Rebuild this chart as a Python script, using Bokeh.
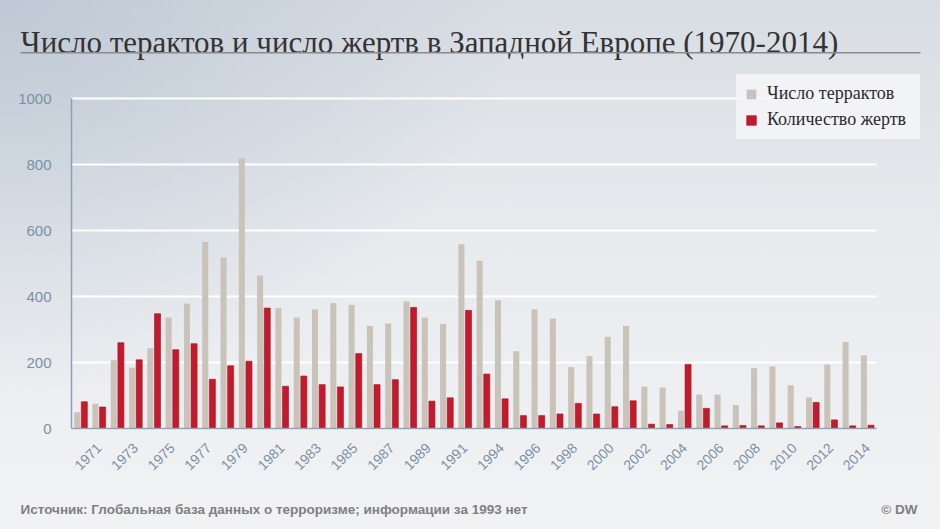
from bokeh.plotting import figure
from bokeh.models import (ColumnDataSource, Label, FixedTicker, Range1d, Legend, LegendItem,
                          BoxAnnotation, LinearAxis)
from bokeh.embed import file_html
from bokeh.resources import INLINE

years = [y for y in range(1970, 2015) if y != 1993]
attacks = [49, 75, 207, 184, 243, 336, 379, 565, 518, 819,
           464, 365, 336, 361, 380, 375, 311, 318, 385, 336,
           317, 558, 508,
           389, 234, 361, 333, 186, 219, 278,
           311, 127, 124, 54, 103, 103, 71, 183, 188, 131,
           94, 194, 262, 222]
victims = [81, 65, 260, 208, 348, 239, 257, 149, 190, 204,
           365, 128, 159, 133, 126, 227, 133, 148, 367, 83,
           93, 358, 165,
           90, 39, 39, 44, 76, 44, 66,
           84, 13, 12, 194, 61, 8, 9, 8, 17, 6,
           79, 26, 8, 10]
y_ticks = [0, 200, 400, 600, 800, 1000]
title_text = "Число терактов и число жертв в Западной Европе (1970-2014)"
source_text = "Источник: Глобальная база данных о терроризме; информации за 1993 нет"
credit_text = "© DW"
series_names = ["Число террактов", "Количество жертв"]

W, H = 940, 529
# plot-area geometry in canvas pixels
AX_X0, AX_X1 = 71, 876      # left / right of the category band
AX_Y0, AX_Y1 = 428, 98      # pixel of value 0 / value 1000

n = len(years)
px_x = (AX_X1 - AX_X0) / n
px_y = (AX_Y0 - AX_Y1) / 1000.0
x_range = Range1d(-AX_X0 / px_x, n + (W - AX_X1) / px_x)
y_range = Range1d(-(H - AX_Y0) / px_y, 1000 + AX_Y1 / px_y)

xpos = [i + 0.5 for i in range(n)]
src = ColumnDataSource(dict(x_att=[x - 0.19 for x in xpos], x_vic=[x + 0.2 for x in xpos],
                            attacks=attacks, victims=victims))

p = figure(width=W, height=H, x_range=x_range, y_range=y_range, min_border=0,
           x_axis_location=None, y_axis_location=None,
           output_backend="svg", toolbar_location=None, border_fill_color=None,
           background_fill_color=None, outline_line_color=None,
           styles={"background": "radial-gradient(ellipse 55% 75% at 0% 0%, rgba(186,198,211,0.85) 0%, rgba(186,198,211,0) 100%), linear-gradient(180deg, #d8dde3 0%, #e8ebee 45%, #f1f2f4 100%)"})
p.grid.visible = False

# grid lines (white), limited to the category band
p.segment(x0=[0] * len(y_ticks), x1=[n] * len(y_ticks), y0=y_ticks, y1=y_ticks,
          line_color="white", line_width=2)

gray_r = p.vbar(x="x_att", top="attacks", width=0.33, source=src,
                fill_color="#c9c3b9", line_color=None)
red_r = p.vbar(x="x_vic", top="victims", width=0.33, source=src,
               fill_color="#c21b2d", line_color="#a8111f", line_width=0.6)

axis_col = "#8ea1b4"
label_col = "#7b90a5"
yaxis = LinearAxis(fixed_location=0, ticker=FixedTicker(ticks=y_ticks), bounds=(0, 1000))
x_ticks = [xpos[i] for i in range(n) if i % 2 == 1]
xaxis = LinearAxis(fixed_location=0, ticker=FixedTicker(ticks=x_ticks), bounds=(0, n))
xaxis.major_label_overrides = {xpos[i]: str(years[i]) for i in range(n) if i % 2 == 1}
for ax in (xaxis, yaxis):
    ax.axis_line_color = axis_col
    ax.axis_line_width = 1.5
    ax.major_tick_line_color = None
    ax.minor_tick_line_color = None
    ax.major_label_text_color = label_col
    ax.major_label_text_font = "Liberation Sans"
yaxis.major_label_text_font_size = "15px"
yaxis.major_label_standoff = 14
xaxis.major_label_text_font_size = "14px"
xaxis.major_label_orientation = 0.785
xaxis.major_label_standoff = 11
p.add_layout(yaxis, "left")
p.add_layout(xaxis, "below")

legend = Legend(items=[LegendItem(label=series_names[0], renderers=[gray_r]),
                       LegendItem(label=series_names[1], renderers=[red_r])],
                location=(736, H - 139), orientation="vertical",
                label_text_font="Liberation Serif", label_text_font_size="18px",
                label_text_color="#2b2b2b", glyph_width=12, glyph_height=12,
                label_standoff=10, spacing=5, padding=8, margin=0, label_width=144,
                label_height=16, background_fill_color="#f5f6f8", background_fill_alpha=0.85,
                border_line_color="#f2f3f5", border_line_alpha=0.6, border_line_width=1)
p.add_layout(legend, "center")

p.add_layout(Label(x=20, y=H - 41.7, x_units="screen", y_units="screen", text=title_text,
                   text_font="Liberation Serif", text_font_size="31px", text_color="#333333",
                   text_baseline="alphabetic"))
p.add_layout(BoxAnnotation(left=20, right=920, top=H - 51.5, bottom=H - 53,
                           left_units="screen", right_units="screen", top_units="screen",
                           bottom_units="screen", fill_color="#8a8a8a", fill_alpha=1,
                           line_color=None))
p.add_layout(Label(x=20, y=H - 509, x_units="screen", y_units="screen", text=source_text,
                   text_font="Liberation Sans", text_font_style="bold", text_font_size="13.5px",
                   text_color="#808080", text_baseline="alphabetic"))
p.add_layout(Label(x=917, y=H - 509, x_units="screen", y_units="screen", text=credit_text,
                   text_font="Liberation Sans", text_font_style="bold", text_font_size="13.5px",
                   text_color="#808080", text_baseline="alphabetic", text_align="right"))

open("out.html", "w").write(file_html(p, INLINE))
